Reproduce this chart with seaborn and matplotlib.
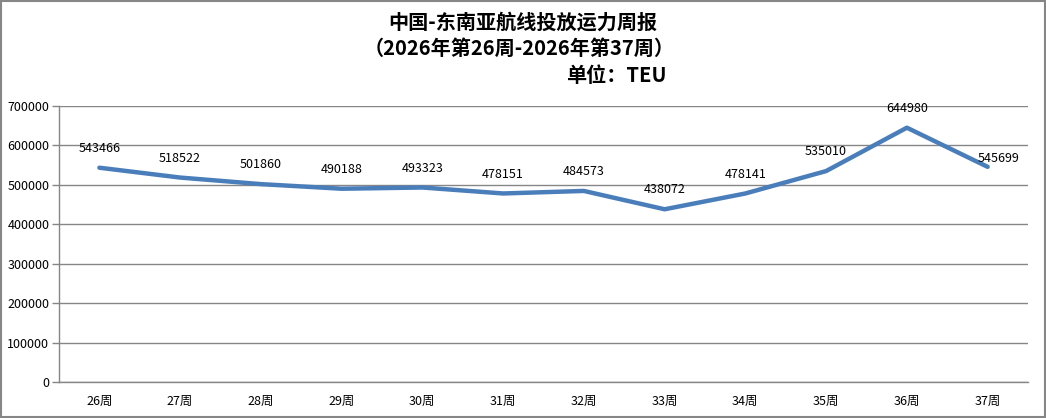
import matplotlib.pyplot as plt
import matplotlib.patches as patches
import seaborn as sns
import pandas as pd

weeks = ["26周", "27周", "28周", "29周", "30周", "31周",
         "32周", "33周", "34周", "35周", "36周", "37周"]
capacity = [543466, 518522, 501860, 490188, 493323, 478151,
            484573, 438072, 478141, 535010, 644980, 545699]

title_lines = ["中国-东南亚航线投放运力周报", "（2026年第26周-2026年第37周）"]
unit_text = "单位：TEU"

sns.set_theme(style="white")
plt.rcParams['font.family'] = ['Noto Sans CJK SC', 'DejaVu Sans']
plt.rcParams['text.color'] = 'black'
plt.rcParams['xtick.color'] = 'black'
plt.rcParams['ytick.color'] = 'black'

df = pd.DataFrame({"week": weeks, "teu": capacity})

fig = plt.figure(figsize=(10.46, 4.18), dpi=100)
ax = fig.add_axes([59 / 1046, 36 / 418, 969 / 1046, 276 / 418])

sns.lineplot(data=df, x="week", y="teu", sort=False, color="#4A7EBB",
             linewidth=3.2, ax=ax)

ax.set_xlim(-0.5, len(weeks) - 0.5)
ax.set_ylim(0, 700000)
ax.set_yticks(range(0, 700001, 100000))
ax.set_yticklabels([str(v) for v in range(0, 700001, 100000)], fontsize=9)
ax.set_xticks(range(len(weeks)))
ax.set_xticklabels(weeks, fontsize=9)
ax.set_xticks([i - 0.5 for i in range(len(weeks) + 1)], minor=True)
ax.tick_params(axis="x", which="major", length=0, pad=9, labelcolor="black")
ax.tick_params(axis="x", which="minor", length=5, color="#868686", width=1)
ax.tick_params(axis="y", length=5, color="#868686", width=1, left=True, pad=2,
               labelcolor="black")
ax.set_xlabel("")
ax.set_ylabel("")

ax.grid(axis="y", color="#868686", linewidth=1)
ax.set_axisbelow(True)
for side in ["top", "right"]:
    ax.spines[side].set_visible(False)
for side in ["left", "bottom"]:
    ax.spines[side].set_color("#868686")
    ax.spines[side].set_linewidth(1)

for i, v in enumerate(capacity):
    if i == len(capacity) - 1:
        ax.annotate(str(v), (i, v), xytext=(8, 6), textcoords="offset points",
                    ha="center", va="center", fontsize=9, color="black")
    else:
        ax.annotate(str(v), (i, v), xytext=(0, 14), textcoords="offset points",
                    ha="center", va="center", fontsize=9, color="black")

fig.text(523 / 1046, 1 - 22 / 418, title_lines[0], ha="center", va="center",
         fontsize=14.5, fontweight="bold", color="black")
fig.text(519 / 1046, 1 - 48 / 418, title_lines[1], ha="center", va="center",
         fontsize=14.5, fontweight="bold", color="black")
fig.text(667 / 1046, 1 - 75 / 418, unit_text, ha="right", va="center",
         fontsize=14.5, fontweight="bold", color="black")

fig.patches.append(patches.Rectangle((0.001, 0.002), 0.998, 0.996,
                                     transform=fig.transFigure, fill=False,
                                     edgecolor="#868686", linewidth=1.5))

fig.savefig("out.png", dpi=100)
